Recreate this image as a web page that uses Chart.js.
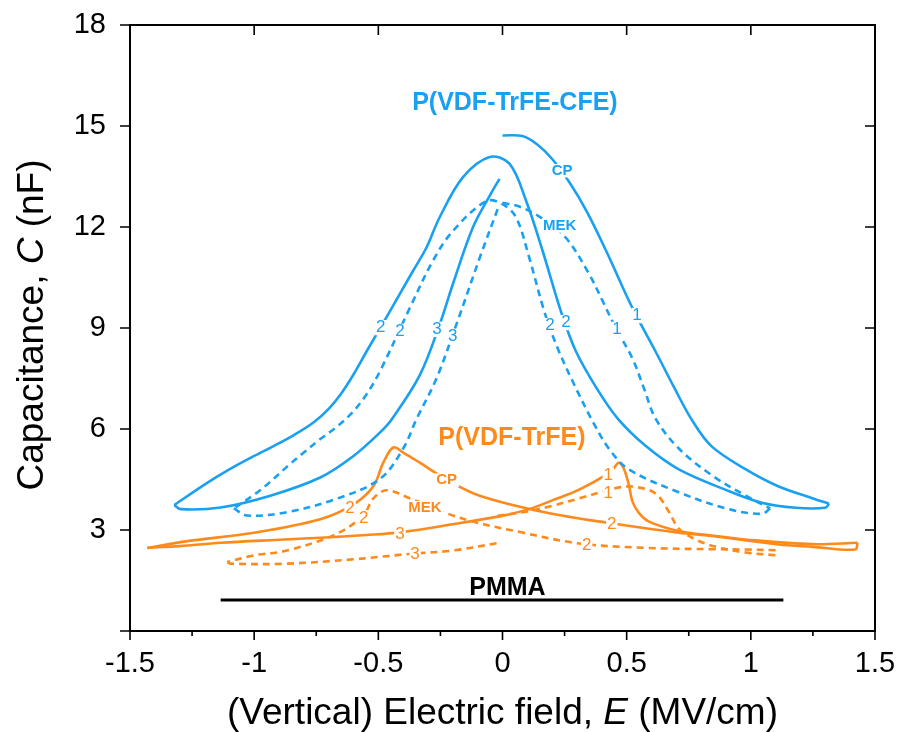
<!DOCTYPE html>
<html>
<head>
<meta charset="utf-8">
<script src="https://cdn.jsdelivr.net/npm/chart.js@4.4.1/dist/chart.umd.min.js"></script>
<style>
  html, body { margin: 0; padding: 0; background: #fff; }
  #wrap { width: 900px; height: 732px; position: relative; }
</style>
</head>
<body>
<div id="wrap"><canvas id="MyChart"></canvas></div>
<script>
// ---- data: E in MV/cm, C in nF ----
// P(VDF-TrFE-CFE), CP solvent (solid)
const cfeCp1E = [0.00, 0.08, 0.14, 0.20, 0.27, 0.34, 0.42, 0.50, 0.54, 0.62, 0.69, 0.76, 0.84, 0.98, 1.11, 1.245, 1.315];
const cfeCp1C = [14.72, 14.70, 14.45, 14.02, 13.32, 12.45, 11.25, 9.95, 9.35, 8.25, 7.25, 6.3, 5.5, 4.8, 4.3, 3.95, 3.78];
const cfeCp2E = [1.315, 1.30, 1.18, 1.044, 0.91, 0.71, 0.576, 0.465, 0.38, 0.296, 0.235, 0.162, 0.095, 0.028, -0.052, -0.159, -0.253, -0.306, -0.36, -0.453, -0.547, -0.6, -0.65, -0.70, -0.76, -0.84, -0.92, -1.0, -1.1, -1.2, -1.322];
const cfeCp2C = [3.78, 3.66, 3.66, 3.81, 4.16, 4.8, 5.5, 6.3, 7.2, 8.3, 9.5, 11.28, 12.78, 13.88, 14.08, 13.48, 12.29, 11.39, 10.7, 9.5, 8.31, 7.62, 7.05, 6.6, 6.2, 5.82, 5.5, 5.2, 4.8, 4.35, 3.74];
const cfeCp3E = [-1.322, -1.296, -1.135, -0.935, -0.734, -0.6, -0.493, -0.445, -0.333, -0.253, -0.2, -0.119, -0.05, -0.012];
const cfeCp3C = [3.74, 3.62, 3.67, 4.02, 4.56, 5.2, 5.9, 6.3, 7.6, 9.1, 10.3, 11.99, 12.95, 13.43];
// P(VDF-TrFE-CFE), MEK solvent (dashed)
const cfeMek1E = [0.00, 0.07, 0.15, 0.255, 0.349, 0.40, 0.456, 0.523, 0.57, 0.617, 0.71, 0.844, 0.977, 1.078];
const cfeMek1C = [12.72, 12.6, 12.3, 11.68, 10.6, 9.85, 9.0, 8.1, 7.2, 6.3, 5.42, 4.62, 4.03, 3.64];
const cfeMek2E = [1.078, 1.044, 0.91, 0.71, 0.509, 0.43, 0.365, 0.29, 0.222, 0.168, 0.108, 0.055, 0.0, -0.065, -0.2, -0.28, -0.373, -0.493, -0.55, -0.61, -0.67, -0.734, -0.8, -0.868, -0.94, -1.0, -1.082];
const cfeMek2C = [3.64, 3.48, 3.62, 4.12, 4.8, 5.4, 6.2, 7.3, 8.4, 9.5, 11.08, 12.28, 12.68, 12.77, 11.88, 11.0, 9.6, 7.72, 7.0, 6.45, 6.05, 5.7, 5.3, 4.88, 4.4, 4.05, 3.64];
const cfeMek3E = [-1.082, -1.028, -0.868, -0.667, -0.493, -0.4, -0.346, -0.266, -0.186, -0.092, -0.012];
const cfeMek3C = [3.64, 3.43, 3.53, 3.93, 4.52, 5.42, 6.3, 7.5, 9.1, 11.08, 12.68];
// P(VDF-TrFE), CP solvent (solid)
const trfeCp1E = [0.0, 0.108, 0.2, 0.309, 0.42, 0.45, 0.469, 0.49, 0.51, 0.523, 0.55, 0.59, 0.71, 0.85, 0.977, 1.245, 1.43];
const trfeCp1C = [3.42, 3.62, 3.88, 4.2, 4.65, 4.85, 5.0, 4.8, 4.3, 3.85, 3.5, 3.25, 2.97, 2.83, 2.72, 2.58, 2.62];
const trfeCp2E = [1.43, 1.42, 1.25, 1.11, 0.844, 0.71, 0.436, 0.175, -0.092, -0.226, -0.333, -0.40, -0.44, -0.48, -0.52, -0.6, -0.734, -1.0, -1.269, -1.43];
const trfeCp2C = [2.62, 2.42, 2.5, 2.57, 2.82, 2.92, 3.2, 3.52, 4.02, 4.5, 5.0, 5.3, 5.45, 5.0, 4.3, 3.76, 3.32, 2.92, 2.67, 2.47];
const trfeCp3E = [-1.43, -1.30, -1.135, -0.9, -0.734, -0.55, -0.413, -0.2, 0.0];
const trfeCp3C = [2.47, 2.52, 2.62, 2.71, 2.77, 2.85, 2.93, 3.17, 3.42];
// P(VDF-TrFE), MEK solvent (dashed)
const trfeMek1E = [-0.02, 0.1, 0.19, 0.309, 0.423, 0.483, 0.536, 0.617, 0.67, 0.71, 0.777, 0.86, 0.98, 1.1];
const trfeMek1C = [3.42, 3.55, 3.7, 3.94, 4.18, 4.28, 4.28, 4.08, 3.54, 3.04, 2.72, 2.5, 2.33, 2.25];
const trfeMek2E = [1.1, 0.98, 0.844, 0.576, 0.309, 0.07, -0.12, -0.226, -0.373, -0.467, -0.52, -0.56, -0.667, -0.868, -1.0, -1.108];
const trfeMek2C = [2.4, 2.42, 2.43, 2.47, 2.6, 2.94, 3.25, 3.5, 3.94, 4.18, 3.94, 3.44, 2.89, 2.39, 2.25, 2.05];
const trfeMek3E = [-1.108, -1.095, -0.868, -0.6, -0.36, -0.2, -0.012];
const trfeMek3C = [2.05, 2.0, 2.0, 2.13, 2.3, 2.39, 2.62];
// PMMA
const pmmaE = [-1.135, 1.131];
const pmmaC = [0.92, 0.92];

// sweep numbers written on the loops
const blueNumText = ['2', '2', '3', '3', '2', '2', '1', '1'];
const blueNumE = [-0.49, -0.413, -0.264, -0.2, 0.191, 0.256, 0.461, 0.542];
const blueNumC = [9.01, 8.9, 8.96, 8.75, 9.07, 9.16, 8.96, 9.37];
const orangeNumText = ['2', '2', '3', '3', '1', '1', '2', '2'];
const orangeNumE = [-0.614, -0.559, -0.413, -0.352, 0.426, 0.426, 0.44, 0.339];
const orangeNumC = [3.63, 3.36, 2.87, 2.27, 4.63, 4.1, 3.16, 2.54];
// solvent labels
const blueSolvText = ['CP', 'MEK'];
const blueSolvE = [0.24, 0.23];
const blueSolvC = [13.67, 12.03];
const orangeSolvText = ['CP', 'MEK'];
const orangeSolvE = [-0.225, -0.312];
const orangeSolvC = [4.48, 3.66];
// material names
const nameText = ['P(VDF-TrFE-CFE)', 'P(VDF-TrFE)', 'PMMA'];
const nameE = [0.05, 0.038, 0.02];
const nameC = [15.67, 5.73, 1.27];

const BLUE = '#1aa0f0';
const ORANGE = '#ff8a1c';
const FONT = "'Liberation Sans', Arial, sans-serif";

function pts(E, C) {
    let out = [];
    for (let i = 0; i < E.length; i++) out.push({x: E[i], y: C[i]});
    return out;
}

function line(E, C, color, dashed) {
    return {
        data: pts(E, C),
        showLine: true,
        borderColor: color,
        backgroundColor: color,
        borderWidth: 2.6,
        borderDash: dashed ? [7, 5] : [],
        pointRadius: 0,
        tension: 0.35,
        fill: false
    };
}

const datasets = [
    line(cfeCp1E, cfeCp1C, BLUE, false),
    line(cfeCp2E, cfeCp2C, BLUE, false),
    line(cfeCp3E, cfeCp3C, BLUE, false),
    line(cfeMek1E, cfeMek1C, BLUE, true),
    line(cfeMek2E, cfeMek2C, BLUE, true),
    line(cfeMek3E, cfeMek3C, BLUE, true),
    line(trfeCp1E, trfeCp1C, ORANGE, false),
    line(trfeCp2E, trfeCp2C, ORANGE, false),
    line(trfeCp3E, trfeCp3C, ORANGE, false),
    line(trfeMek1E, trfeMek1C, ORANGE, true),
    line(trfeMek2E, trfeMek2C, ORANGE, true),
    line(trfeMek3E, trfeMek3C, ORANGE, true),
    Object.assign(line(pmmaE, pmmaC, '#000', false), {borderWidth: 3, tension: 0})
];

function drawMixed(ctx, parts, size) {
    // parts: [text, italic]
    let total = 0;
    for (const p of parts) {
        ctx.font = (p[1] ? 'italic ' : '') + size + 'px ' + FONT;
        total += ctx.measureText(p[0]).width;
    }
    let x = -total / 2;
    for (const p of parts) {
        ctx.font = (p[1] ? 'italic ' : '') + size + 'px ' + FONT;
        ctx.fillText(p[0], x, 0);
        x += ctx.measureText(p[0]).width;
    }
}

function boxedText(ctx, txt, px, py, pad) {
    const w = ctx.measureText(txt).width;
    const h = parseInt(ctx.font.match(/(\d+)px/)[1]);
    ctx.fillStyle = '#fff';
    ctx.fillRect(px - w / 2 - pad, py - h * 0.45, w + 2 * pad, h * 0.9);
}

const overlay = {
    id: 'overlay',
    afterDatasetsDraw(chart) {
        const ctx = chart.ctx;
        const xs = chart.scales.x, ys = chart.scales.y;
        ctx.save();
        ctx.textAlign = 'center';
        ctx.textBaseline = 'middle';
        const groups = [
            [blueNumText, blueNumE, blueNumC, BLUE, '17px ' + FONT, 1],
            [orangeNumText, orangeNumE, orangeNumC, ORANGE, '17px ' + FONT, 1],
            [blueSolvText, blueSolvE, blueSolvC, BLUE, 'bold 15px ' + FONT, 2],
            [orangeSolvText, orangeSolvE, orangeSolvC, ORANGE, 'bold 15px ' + FONT, 2]
        ];
        for (const g of groups) {
            ctx.font = g[4];
            for (let i = 0; i < g[0].length; i++) {
                const px = xs.getPixelForValue(g[1][i]);
                const py = ys.getPixelForValue(g[2][i]);
                boxedText(ctx, g[0][i], px, py, g[5]);
                ctx.fillStyle = g[3];
                ctx.fillText(g[0][i], px, py);
            }
        }
        const nameColors = [BLUE, ORANGE, '#000'];
        ctx.font = 'bold 25px ' + FONT;
        for (let i = 0; i < nameText.length; i++) {
            ctx.fillStyle = nameColors[i];
            ctx.fillText(nameText[i], xs.getPixelForValue(nameE[i]), ys.getPixelForValue(nameC[i]));
        }
        ctx.restore();
    },
    afterDraw(chart) {
        const ctx = chart.ctx;
        const a = chart.chartArea;
        const xs = chart.scales.x, ys = chart.scales.y;
        ctx.save();
        ctx.strokeStyle = '#000';
        ctx.lineWidth = 2;
        ctx.strokeRect(a.left, a.top, a.right - a.left, a.bottom - a.top);
        ctx.lineWidth = 1.6;
        ctx.beginPath();
        xs.ticks.forEach((t, i) => {
            const px = xs.getPixelForValue(t.value);
            const major = xs._tickLabel(i) !== '';
            const len = major ? 9 : 5;
            ctx.moveTo(px, a.bottom); ctx.lineTo(px, a.bottom + len);
            if (major) { ctx.moveTo(px, a.top); ctx.lineTo(px, a.top + 10); }
        });
        ys.ticks.forEach(t => {
            const py = ys.getPixelForValue(t.value);
            ctx.moveTo(a.left, py); ctx.lineTo(a.left - 10, py);
            ctx.moveTo(a.right, py); ctx.lineTo(a.right - 10, py);
        });
        ctx.stroke();
        // axis titles
        ctx.fillStyle = '#000';
        ctx.textBaseline = 'alphabetic';
        ctx.save();
        ctx.translate((a.left + a.right) / 2, 724);
        drawMixed(ctx, [['(Vertical) Electric field, ', false], ['E', true], [' (MV/cm)', false]], 37);
        ctx.restore();
        ctx.save();
        ctx.translate(43, 325);
        ctx.rotate(-Math.PI / 2);
        drawMixed(ctx, [['Capacitance, ', false], ['C', true], [' (nF)', false]], 37);
        ctx.restore();
        ctx.restore();
    }
};

function majorLabel(v) {
    if (Math.abs(v * 2 - Math.round(v * 2)) > 1e-6) return '';
    return String(+(+v).toFixed(2));
}

const config = {
    type: 'scatter',
    data: {datasets: datasets},
    options: {
        responsive: true,
        maintainAspectRatio: false,
        animation: false,
        layout: {padding: {left: 0, top: 25, right: 25, bottom: 0}},
        plugins: {legend: {display: false}, tooltip: {enabled: false}},
        scales: {
            x: {
                type: 'linear', min: -1.5, max: 1.5,
                grid: {display: false}, border: {display: false},
                ticks: {
                    stepSize: 0.25, autoSkip: false, maxRotation: 0, padding: 8,
                    color: '#000', font: {family: FONT, size: 29},
                    callback: v => majorLabel(v)
                },
                afterFit: s => { s.height = 101; s.paddingLeft = 0; s.paddingRight = 0; }
            },
            y: {
                type: 'linear', min: 0, max: 18,
                grid: {display: false}, border: {display: false},
                ticks: {
                    stepSize: 3, padding: 16,
                    color: '#000', font: {family: FONT, size: 29},
                    callback: v => (v === 0 ? '' : String(v))
                },
                afterFit: s => { s.width = 130; s.paddingTop = 0; s.paddingBottom = 0; }
            }
        }
    },
    plugins: [overlay]
};

// helper used by the tick plugin: label text of tick i
Chart.LinearScale.prototype._tickLabel = function (i) {
    const t = this.ticks[i];
    return t && t.label ? String(t.label) : '';
};

const myChart = new Chart(document.getElementById('MyChart'), config);
</script>
</body>
</html>
